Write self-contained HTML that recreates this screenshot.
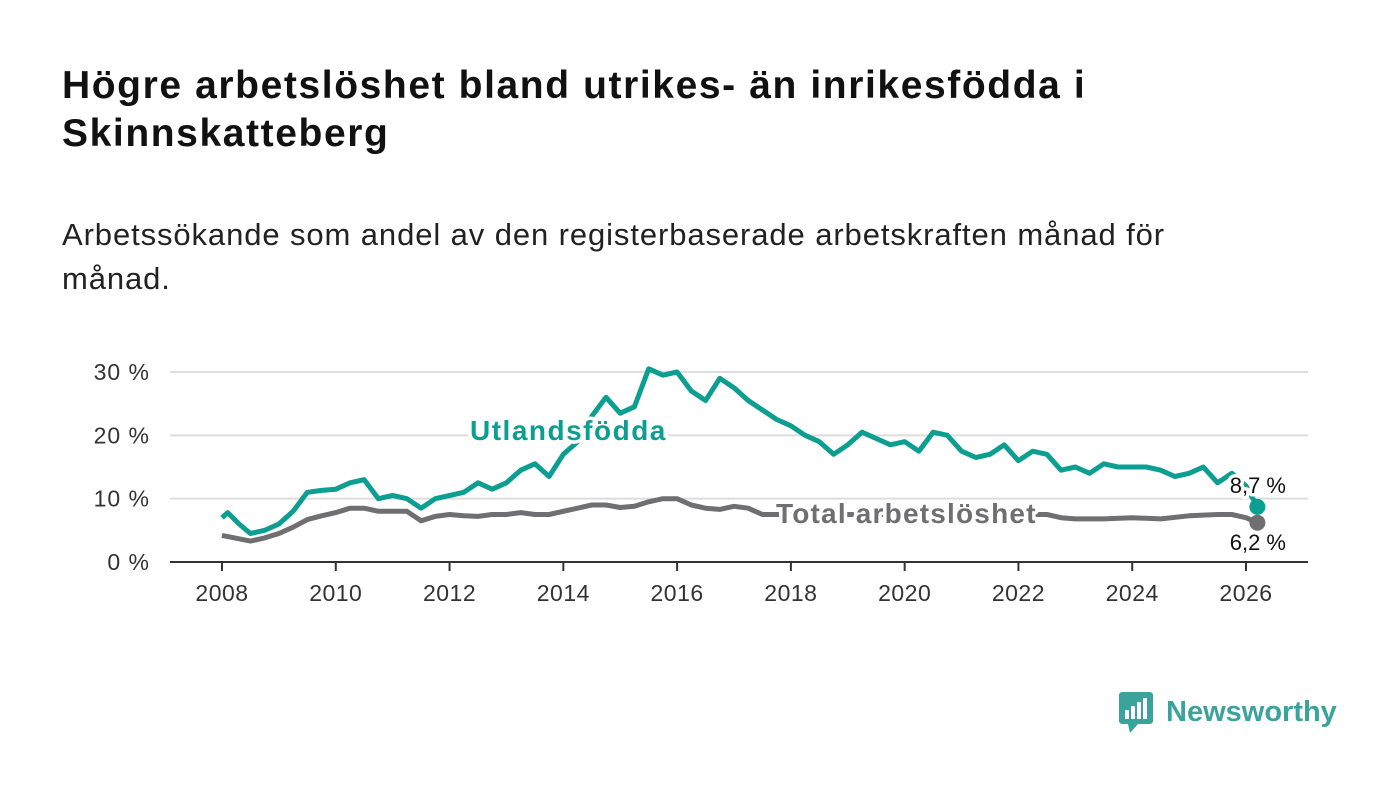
<!DOCTYPE html>
<html><head><meta charset="utf-8"><style>
body{margin:0;width:1400px;height:794px;background:#fff;font-family:"Liberation Sans",sans-serif;overflow:hidden}
h1{position:absolute;left:62px;top:62px;margin:0;font-size:39px;letter-spacing:1.6px;line-height:48px;font-weight:bold;color:#111;width:1200px}
.sub{position:absolute;left:62px;top:213px;font-size:31px;letter-spacing:0.9px;line-height:44px;color:#222;width:1200px}
</style></head><body>
<h1>Högre arbetslöshet bland utrikes- än inrikesfödda i<br>Skinnskatteberg</h1>
<div class="sub">Arbetssökande som andel av den registerbaserade arbetskraften månad för<br>månad.</div>
<svg id="chart" width="1400" height="794" style="position:absolute;left:0;top:0"></svg>
<div style="position:absolute;left:1118px;top:690px;display:flex;align-items:center">
<svg width="36" height="44"><rect x="1" y="2" width="34" height="32" rx="3" fill="#3aa39b"/><polygon points="10,34 20,34 12,43" fill="#3aa39b"/><rect x="7" y="20" width="4" height="9" fill="#fff"/><rect x="13" y="16" width="4" height="13" fill="#fff"/><rect x="19" y="12" width="4" height="17" fill="#fff"/><rect x="25" y="8" width="4" height="21" fill="#fff"/></svg>
<span style="font-size:29px;color:#3aa39b;font-weight:bold;margin-left:12px">Newsworthy</span></div>
<script>
const utT=[2008,2008.1,2008.3,2008.5,2008.75,2009,2009.25,2009.5,2009.75,2010,2010.25,2010.5,2010.75,2011,2011.25,2011.5,2011.75,2012,2012.25,2012.5,2012.75,2013,2013.25,2013.5,2013.75,2014,2014.25,2014.5,2014.75,2015,2015.25,2015.5,2015.75,2016,2016.25,2016.5,2016.75,2017,2017.25,2017.5,2017.75,2018,2018.25,2018.5,2018.75,2019,2019.25,2019.5,2019.75,2020,2020.25,2020.5,2020.75,2021,2021.25,2021.5,2021.75,2022,2022.25,2022.5,2022.75,2023,2023.25,2023.5,2023.75,2024,2024.25,2024.5,2024.75,2025,2025.25,2025.5,2025.75,2026,2026.2];
const utV=[7,7.8,6,4.5,5,6,8,11,11.3,11.5,12.5,13,10,10.5,10,8.5,10,10.5,11,12.5,11.5,12.5,14.5,15.5,13.5,17,19,23,26,23.5,24.5,30.5,29.5,30,27,25.5,29,27.5,25.5,24,22.5,21.5,20,19,17,18.5,20.5,19.5,18.5,19,17.5,20.5,20,17.5,16.5,17,18.5,16,17.5,17,14.5,15,14,15.5,15,15,15,14.5,13.5,14,15,12.5,14,12,8.7];
const toT=[2008,2008.5,2008.75,2009,2009.25,2009.5,2009.75,2010,2010.25,2010.5,2010.75,2011,2011.25,2011.5,2011.75,2012,2012.25,2012.5,2012.75,2013,2013.25,2013.5,2013.75,2014,2014.25,2014.5,2014.75,2015,2015.25,2015.5,2015.75,2016,2016.25,2016.5,2016.75,2017,2017.25,2017.5,2017.75,2018,2019,2020,2021,2022,2022.5,2022.75,2023,2023.5,2024,2024.5,2025,2025.5,2025.75,2026,2026.2];
const toV=[4.2,3.3,3.8,4.5,5.5,6.7,7.3,7.8,8.5,8.5,8,8,8,6.5,7.2,7.5,7.3,7.2,7.5,7.5,7.8,7.5,7.5,8,8.5,9,9,8.6,8.8,9.5,10,10,9,8.5,8.3,8.8,8.5,7.5,7.5,7.5,7.5,7.5,7.5,7.5,7.5,7,6.8,6.8,7,6.8,7.3,7.5,7.5,7,6.2];
const yTicks=[0,10,20,30];
const xTicks=[2008,2010,2012,2014,2016,2018,2020,2022,2024,2026];
const NS="http://www.w3.org/2000/svg",svg=document.getElementById('chart');
const X=t=>222+(t-2008)*1024/18, Y=v=>562-v*190/30;
function mk(tag,a){const e=document.createElementNS(NS,tag);for(const k in a)e.setAttribute(k,a[k]);svg.appendChild(e);return e;}
yTicks.forEach(v=>{
 if(v>0){const g=mk('line',{x1:170,x2:1308,y1:Y(v),y2:Y(v),stroke:'#ddd','stroke-width':2});
 
 }
 const t=mk('text',{x:150,y:Y(v)+8,'text-anchor':'end','font-size':23,'letter-spacing':1,fill:'#333','font-family':'Liberation Sans'});t.textContent=v+' %';
 
 
});
const ax=mk('line',{x1:170,x2:1308,y1:562,y2:562,stroke:'#333','stroke-width':2});


xTicks.forEach(y=>{
 const l=mk('line',{x1:X(y),x2:X(y),y1:562,y2:571,stroke:'#333','stroke-width':2});
 
 
 const t=mk('text',{x:X(y),y:601,'text-anchor':'middle','font-size':23,'letter-spacing':0.5,fill:'#333','font-family':'Liberation Sans'});t.textContent=y;
 
 
});
function line(T,V,c,n){const d=T.map((t,i)=>(i?'L':'M')+X(t).toFixed(1)+','+Y(V[i]).toFixed(1)).join('');
 const p=mk('path',{d:d,fill:'none',stroke:c,'stroke-width':5,'stroke-linejoin':'round'});
 
 
 const dot=mk('circle',{cx:X(T[T.length-1]),cy:Y(V[V.length-1]),r:8,fill:c});
 
 }
line(toT,toV,'#6f6f72','total-line');
line(utT,utV,'#0c9e91','utlandsfodda-line');
function lab(x,y,s,c,fs,w,n,anc,ls){const t=mk('text',{x:x,y:y,'font-size':fs,'font-weight':w,fill:c,'letter-spacing':ls||0,'text-anchor':anc||'start','font-family':'Liberation Sans',stroke:'#fff','stroke-width':7,'paint-order':'stroke','stroke-linejoin':'round'});t.textContent=s;
 
 }
lab(470,440,'Utlandsfödda','#0c9e91',28,'bold','utlandsfodda-label','start',1.5);
lab(776,523,'Total arbetslöshet','#6f6f72',28,'bold','total-label','start',1.2);
lab(1286,493,'8,7 %','#111',22,'normal','utlandsfodda-value','end');
lab(1286,550,'6,2 %','#111',22,'normal','total-value','end');
</script>
</body></html>
